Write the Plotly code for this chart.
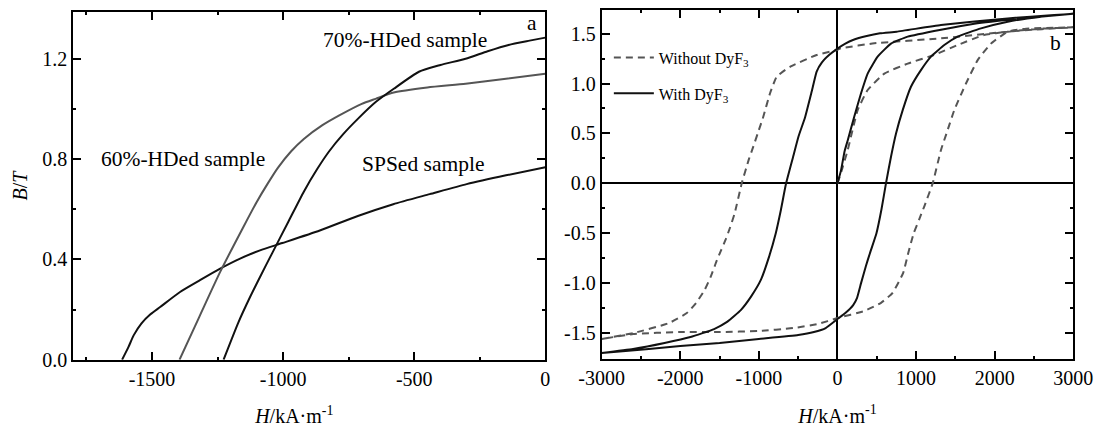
import plotly.graph_objects as go
from plotly.subplots import make_subplots

# ---------- panel a: demagnetization curves ----------
sps_H = [-1614, -1590, -1570, -1540, -1506, -1469, -1393, -1317, -1240, -1164, -1088, -1003, -860, -715, -580, -441, -300, -150, 0]
sps_B = [0.0, 0.05, 0.097, 0.145, 0.181, 0.210, 0.270, 0.317, 0.363, 0.403, 0.436, 0.465, 0.515, 0.573, 0.62, 0.66, 0.70, 0.735, 0.767]

hd60_H = [-1395, -1320, -1240, -1151, -1100, -1060, -1020, -970, -921, -850, -784, -700, -647, -578, -450, -304, -150, 0]
hd60_B = [0.0, 0.17, 0.35, 0.53, 0.63, 0.70, 0.765, 0.83, 0.88, 0.935, 0.975, 1.02, 1.04, 1.065, 1.085, 1.10, 1.12, 1.14]

hd70_H = [-1227, -1170, -1126, -1088, -1044, -980, -921, -870, -825, -770, -715, -647, -578, -482, -400, -304, -220, -140, -60, 0]
hd70_B = [0.0, 0.15, 0.25, 0.33, 0.42, 0.55, 0.67, 0.76, 0.83, 0.90, 0.96, 1.027, 1.08, 1.148, 1.175, 1.20, 1.23, 1.255, 1.272, 1.284]

# ---------- panel b: hysteresis loops ----------
# With DyF3: initial curve, descending branch, ascending branch
with_init_H = [0, 45, 90, 130, 214, 299, 384, 511, 681, 893, 1317, 1741, 2300, 3000]
with_init_B = [0.0, 0.13, 0.32, 0.43, 0.67, 0.90, 1.10, 1.27, 1.40, 1.47, 1.54, 1.60, 1.65, 1.70]
with_down_H = [3000, 2758, 2166, 1317, 753, 541, 372, 197, 100, 0, -100, -200, -265, -328, -413, -496, -560, -654, -720, -785, -870, -975, -1100, -1230, -1400, -1570, -1870, -2200, -2600, -3000]
with_down_B = [1.70, 1.686, 1.653, 1.586, 1.52, 1.503, 1.476, 1.436, 1.40, 1.35, 1.29, 1.21, 1.12, 0.92, 0.66, 0.47, 0.28, 0.0, -0.267, -0.50, -0.734, -0.968, -1.135, -1.27, -1.386, -1.46, -1.54, -1.60, -1.66, -1.70]
with_up_H = [-3000, -2400, -2000, -1500, -1000, -500, -300, -150, 0, 100, 200, 248, 300, 361, 413, 496, 560, 617, 681, 745, 830, 935, 1062, 1190, 1359, 1529, 1826, 2166, 2590, 3000]
with_up_B = [-1.70, -1.66, -1.63, -1.60, -1.56, -1.52, -1.49, -1.45, -1.36, -1.30, -1.22, -1.15, -1.00, -0.83, -0.70, -0.50, -0.26, 0.0, 0.267, 0.50, 0.734, 0.968, 1.135, 1.27, 1.386, 1.47, 1.553, 1.62, 1.67, 1.70]

# Without DyF3
wo_init_H = [0, 50, 130, 257, 384, 596, 893, 1228, 1529, 1864, 2166, 2600, 3000]
wo_init_B = [0.0, 0.12, 0.334, 0.734, 0.935, 1.10, 1.20, 1.286, 1.386, 1.486, 1.52, 1.55, 1.563]
wo_down_H = [3000, 2600, 2166, 1317, 468, 45, -10, -265, -604, -774, -859, -944, -1015, -1070, -1128, -1218, -1308, -1370, -1421, -1480, -1534, -1610, -1691, -1800, -1917, -2143, -2594, -3000]
wo_down_B = [1.563, 1.545, 1.52, 1.453, 1.403, 1.353, 1.336, 1.286, 1.168, 1.068, 0.90, 0.667, 0.50, 0.37, 0.24, 0.0, -0.30, -0.45, -0.56, -0.67, -0.77, -0.93, -1.07, -1.20, -1.30, -1.40, -1.50, -1.56]
wo_up_H = [-3000, -2600, -2000, -1500, -1000, -564, -250, 0, 338, 550, 699, 835, 900, 970, 1040, 1105, 1211, 1317, 1400, 1486, 1635, 1784, 1953, 2166, 2400, 3000]
wo_up_B = [-1.56, -1.51, -1.49, -1.49, -1.48, -1.45, -1.41, -1.35, -1.28, -1.20, -1.10, -0.90, -0.70, -0.50, -0.36, -0.23, 0.0, 0.334, 0.53, 0.734, 1.0, 1.235, 1.40, 1.52, 1.55, 1.563]

FONT = "Liberation Serif"
BLACK = "#111111"
GRAY = "#555555"

fig = make_subplots(rows=1, cols=2)

fig.add_trace(go.Scatter(x=sps_H, y=sps_B, mode="lines", line=dict(color=BLACK, width=2, shape="spline", smoothing=0.6), showlegend=False), 1, 1)
fig.add_trace(go.Scatter(x=hd60_H, y=hd60_B, mode="lines", line=dict(color=GRAY, width=2, shape="spline", smoothing=0.6), showlegend=False), 1, 1)
fig.add_trace(go.Scatter(x=hd70_H, y=hd70_B, mode="lines", line=dict(color=BLACK, width=2, shape="spline", smoothing=0.6), showlegend=False), 1, 1)

fig.add_trace(go.Scatter(x=wo_init_H + wo_down_H + wo_up_H, y=wo_init_B + wo_down_B + wo_up_B,
                         mode="lines", name="Without DyF<sub>3</sub>", legendgroup="wo",
                         line=dict(color=GRAY, width=2, dash="7px,5px", shape="spline", smoothing=0.4)), 1, 2)
fig.add_trace(go.Scatter(x=with_init_H + with_down_H + with_up_H, y=with_init_B + with_down_B + with_up_B,
                         mode="lines", name="With DyF<sub>3</sub>", legendgroup="with",
                         line=dict(color=BLACK, width=2, shape="spline", smoothing=0.4)), 1, 2)

axis_common = dict(showline=True, linecolor="black", linewidth=2, mirror="allticks", ticks="inside",
                   ticklen=8, tickwidth=2, tickcolor="black", showgrid=False, zeroline=False,
                   automargin=False,
                   tickfont=dict(family=FONT, size=20, color="black"),
                   title_font=dict(family=FONT, size=20, color="black"))

fig.update_xaxes(axis_common)
fig.update_yaxes(axis_common)

NB = "&nbsp;" * 6
fig.update_layout(
    xaxis=dict(domain=[0.0666, 0.4953], range=[-1800, 0], tickvals=[-1500, -1000, -500, 0],
               ticktext=["-1500", "-1000", "-500", "0"],
               minor=dict(dtick=250, ticks="inside", ticklen=3, tickcolor="black"),
               title=dict(text="<i>H</i>/kA·m<sup>-1</sup>" + NB, standoff=21)),
    yaxis=dict(domain=[0.1576, 0.9712], range=[0, 1.385], tickvals=[0, 0.4, 0.8, 1.2],
               ticktext=["0.0", "0.4", "0.8", "1.2"],
               minor=dict(dtick=0.2, ticks="inside", ticklen=3, tickcolor="black"),
               title=dict(text="<i>B</i>/<i>T</i>", standoff=9)),
    xaxis2=dict(domain=[0.5465, 0.9748], range=[-3000, 3000], tickvals=[-3000, -2000, -1000, 0, 1000, 2000, 3000],
                ticktext=["-3000", "-2000", "-1000", "0", "1000", "2000", "3000"],
                minor=dict(dtick=500, ticks="inside", ticklen=3, tickcolor="black"),
                zeroline=True, zerolinecolor="black", zerolinewidth=2,
                title=dict(text="<i>H</i>/kA·m<sup>-1</sup>", standoff=21)),
    yaxis2=dict(domain=[0.1600, 0.9766], range=[-1.757, 1.737], tickvals=[-1.5, -1.0, -0.5, 0, 0.5, 1.0, 1.5],
                ticktext=["-1.5", "-1.0", "-0.5", "0.0", "0.5", "1.0", "1.5"],
                minor=dict(dtick=0.25, ticks="inside", ticklen=3, tickcolor="black"),
                zeroline=True, zerolinecolor="black", zerolinewidth=2),
    width=1101, height=427,
    margin=dict(l=0, r=0, t=0, b=0),
    paper_bgcolor="white", plot_bgcolor="white",
    font=dict(family=FONT, color="black"),
    legend=dict(x=0.553, y=0.905, xanchor="left", yanchor="top", bgcolor="rgba(0,0,0,0)",
                font=dict(family=FONT, size=16, color="black"), tracegroupgap=12, itemwidth=40),
)

ann = [
    dict(x=-1383, y=0.80, xref="x", yref="y", text="60%-HDed sample"),
    dict(x=-468, y=0.78, xref="x", yref="y", text="SPSed sample"),
    dict(x=-537, y=1.275, xref="x", yref="y", text="70%-HDed sample"),
    dict(x=-51, y=1.342, xref="x", yref="y", text="a"),
    dict(x=2780, y=1.406, xref="x2", yref="y2", text="b"),
]
for a in ann:
    fig.add_annotation(showarrow=False, font=dict(family=FONT, size=21.5, color="black"), **a)

fig.write_html("out.html", config={"displayModeBar": False},
               post_script="document.body.style.margin='0';document.body.style.overflow='hidden';")
